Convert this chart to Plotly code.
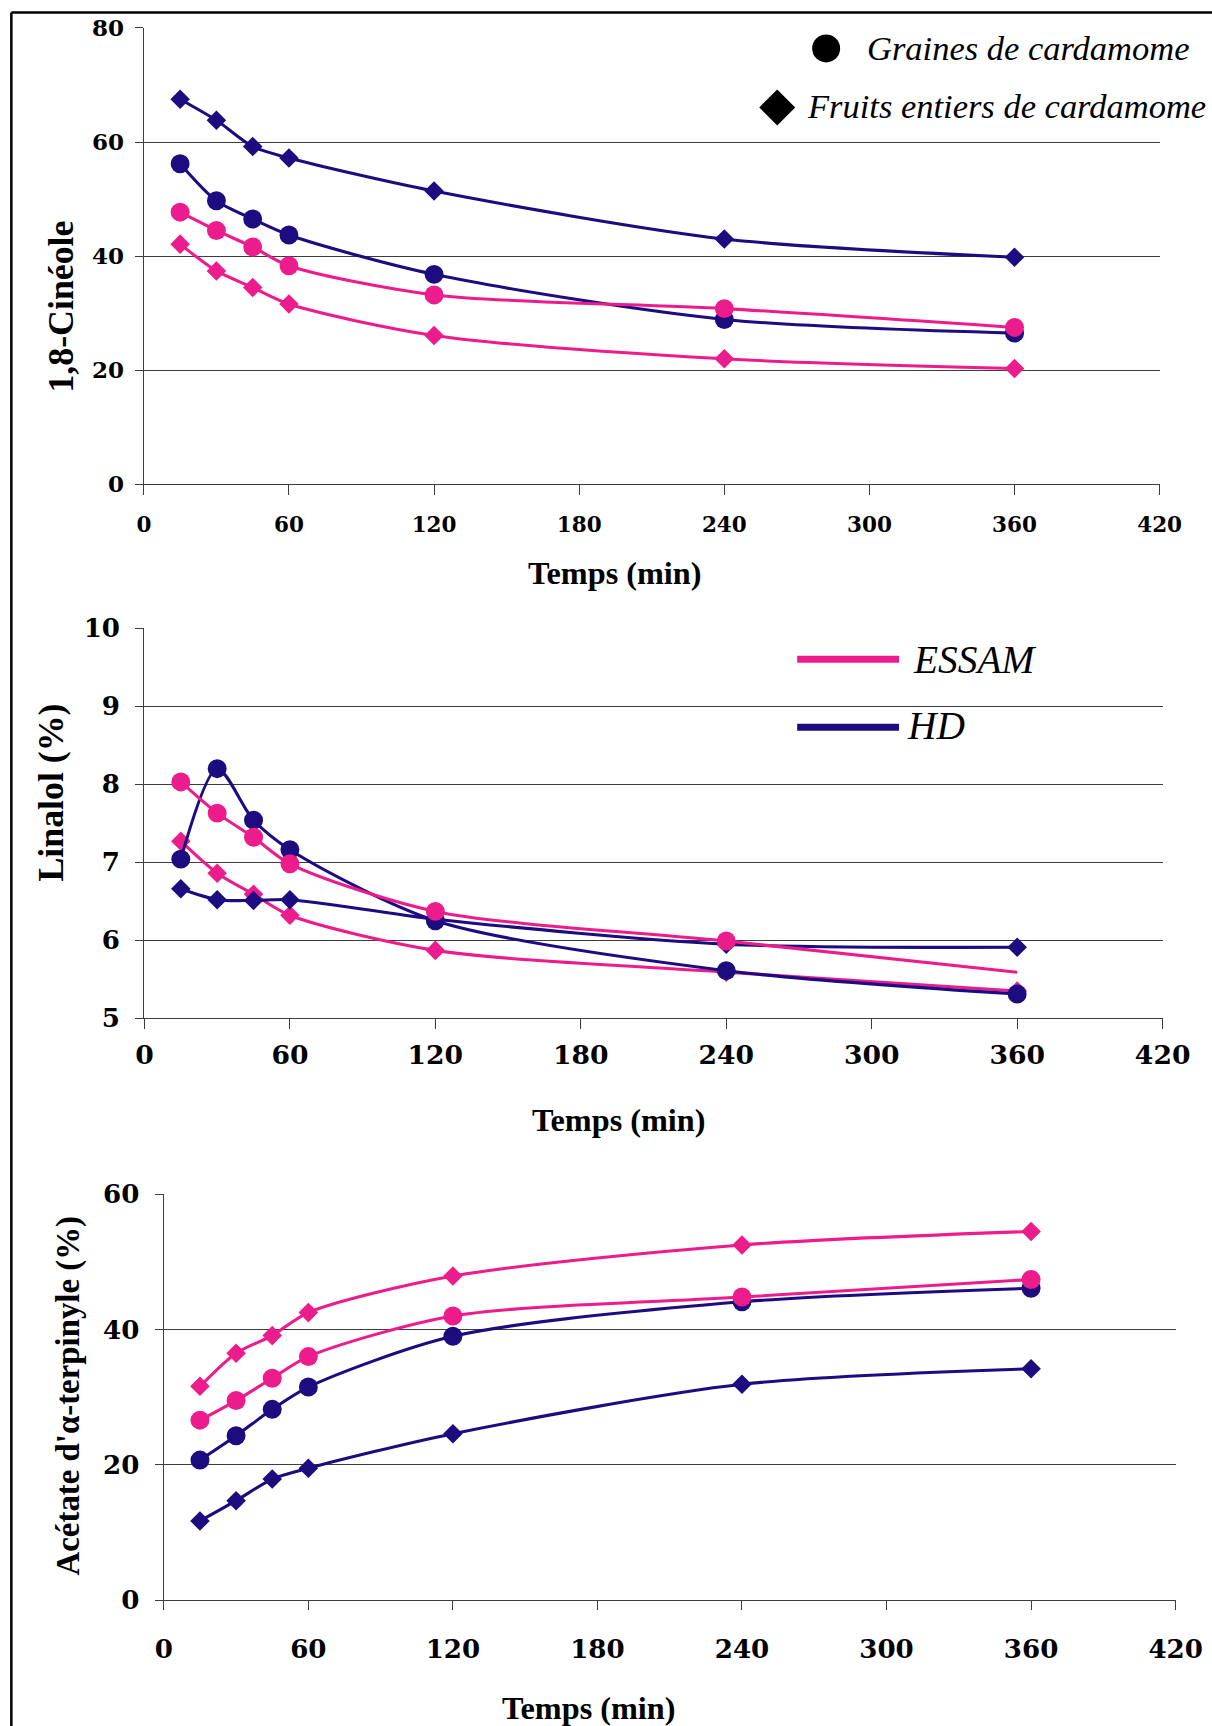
import plotly.graph_objects as go

# ---------------- data ----------------
temps = [15, 30, 45, 60, 120, 240, 360]
x_ticks = [0, 60, 120, 180, 240, 300, 360, 420]

cineole_essam_graines = [47.7, 44.5, 41.6, 38.3, 33.2, 30.8, 27.5]
cineole_essam_fruits = [42.1, 37.4, 34.5, 31.6, 26.1, 22.0, 20.3]
cineole_hd_graines = [56.2, 49.7, 46.5, 43.7, 36.8, 28.9, 26.5]
cineole_hd_fruits = [67.5, 63.8, 59.2, 57.2, 51.4, 43.0, 39.8]

linalol_essam_graines = [8.03, 7.63, 7.32, 6.98, 6.37, 5.99, 5.59]
linalol_essam_fruits = [7.27, 6.86, 6.59, 6.32, 5.87, 5.59, 5.35]
linalol_hd_graines = [7.04, 8.20, 7.54, 7.16, 6.25, 5.61, 5.31]
linalol_hd_fruits = [6.66, 6.52, 6.51, 6.52, 6.27, 5.95, 5.91]

acetate_essam_graines = [26.6, 29.5, 32.8, 36.0, 42.0, 44.8, 47.4]
acetate_essam_fruits = [31.6, 36.5, 39.1, 42.5, 47.9, 52.5, 54.5]
acetate_hd_graines = [20.7, 24.3, 28.2, 31.5, 39.0, 44.1, 46.1]
acetate_hd_fruits = [11.7, 14.7, 17.9, 19.5, 24.6, 31.9, 34.2]

PINK = "#EC1C8C"
NAVY = "#1C0C80"
GRID = "#3c3c3c"
SERIF = "Liberation Serif, Times New Roman, serif"
TICKFONT = "DejaVu Serif, serif"

# page geometry: figure size and the observed placement of the rendered page
W, H = 1240, 1750
OX, OY, SX, SY = 7.65, 14.6, 0.9716, 0.98245
K = 1 / 0.977  # size compensation


def px(x):
    return ((x - OX) / SX) / W


def py(y):
    return 1 - ((y - OY) / SY) / H


def sz(v):
    return v * K


fig = go.Figure()

CIRC = sz(18.5)
DIAM = sz(14.7)

panels = [
    # (suffix, series, y range, y ticks, plot-area px box (ref), x tick font, y tick font, x standoff, y standoff, eg sizes)
    ("", dict(ef=cineole_essam_fruits, hf=cineole_hd_fruits, hg=cineole_hd_graines, eg=cineole_essam_graines),
     [0, 80], [0, 20, 40, 60, 80], (142.7, 1160, 26.5, 483), 21, 22.5, 12, 6, [CIRC] * 7),
    ("2", dict(ef=linalol_essam_fruits, hf=linalol_hd_fruits, hg=linalol_hd_graines, eg=linalol_essam_graines),
     [5, 10], [5, 6, 7, 8, 9, 10], (143.3, 1163, 627, 1017), 26, 25.5, 4, 10, [CIRC] * 6 + [0]),
    ("3", dict(ef=acetate_essam_fruits, hf=acetate_hd_fruits, hg=acetate_hd_graines, eg=acetate_essam_graines),
     [0, 60], [0, 20, 40, 60], (162.7, 1176, 1193, 1599), 25.5, 25.5, 16, 10, [CIRC] * 7),
]

layout = {}
for suf, s, yr, yt, box, xfs, yfs, xstand, ystand, eg_sizes in panels:
    xa, ya = "x" + suf, "y" + suf
    order = [
        (s["ef"], PINK, "diamond", DIAM, "ESSAM - Fruits entiers"),
        (s["hf"], NAVY, "diamond", DIAM, "HD - Fruits entiers"),
        (s["hg"], NAVY, "circle", CIRC, "HD - Graines"),
        (s["eg"], PINK, "circle", eg_sizes, "ESSAM - Graines"),
    ]
    for vals, col, sym, size, name in order:
        fig.add_trace(go.Scatter(
            x=temps, y=vals, xaxis=xa, yaxis=ya, mode="lines+markers",
            line=dict(color=col, width=sz(3), shape="spline", smoothing=0.8),
            marker=dict(symbol=sym, size=size, color=col, opacity=1, line=dict(width=0)),
            name=name, showlegend=False,
        ))
    x0, x1, y0, y1 = box
    layout["xaxis" + suf] = dict(
        domain=[px(x0), px(x1)], anchor=ya, range=[0, 420], tickvals=x_ticks,
        showgrid=False, zeroline=False, showline=True, linecolor=GRID, linewidth=1.2,
        ticks="outside", ticklen=sz(9), tickcolor=GRID, tickwidth=1.2,
        tickfont=dict(family=TICKFONT, size=sz(xfs), color="black", weight="bold"),
        ticklabelstandoff=xstand,
    )
    layout["yaxis" + suf] = dict(
        domain=[py(y1), py(y0)], anchor=xa, range=yr, tickvals=yt,
        showgrid=True, gridcolor=GRID, gridwidth=1.2, zeroline=False,
        showline=True, linecolor=GRID, linewidth=1.2,
        ticks="outside", ticklen=sz(8), tickcolor=GRID, tickwidth=1.2,
        tickfont=dict(family=TICKFONT, size=sz(yfs), color="black", weight="bold"),
        ticklabelstandoff=ystand,
    )

annotations = []
shapes = []

title_font = dict(family=SERIF, size=sz(31.5), color="black", weight="bold")
for (cx, cy) in [(614, 572), (618, 1119), (588, 1707)]:
    annotations.append(dict(x=px(cx), y=py(cy), xref="paper", yref="paper", text="Temps (min)",
                            showarrow=False, font=title_font, xanchor="center", yanchor="middle"))
for (cx, cy, txt, fsz) in [(60, 305, "1,8-Cinéole", 35), (50, 791, "Linalol (%)", 35),
                           (67, 1395, "Acétate d'α-terpinyle (%)", 32.1)]:
    annotations.append(dict(x=px(cx), y=py(cy), xref="paper", yref="paper", text=txt, textangle=-90,
                            showarrow=False, font=dict(family=SERIF, size=sz(fsz), color="black", weight="bold"),
                            xanchor="center", yanchor="middle"))

# legend of panel 1 (marker shapes)
leg_font = dict(family=SERIF, size=sz(33.7), color="black", style="italic")
annotations.append(dict(x=px(865), y=py(47), xref="paper", yref="paper", text="Graines de cardamome",
                        showarrow=False, font=leg_font, xanchor="left", yanchor="middle"))
annotations.append(dict(x=px(805), y=py(105), xref="paper", yref="paper", text="Fruits entiers de cardamome",
                        showarrow=False, font=leg_font, xanchor="left", yanchor="middle"))
shapes.append(dict(type="circle", xref="paper", yref="paper", x0=px(812), x1=px(840), y0=py(33), y1=py(61),
                   fillcolor="black", line=dict(width=0)))
dcx, dcy, dr = 777, 106, 18
shapes.append(dict(type="path", xref="paper", yref="paper",
                   path=f"M {px(dcx - dr)},{py(dcy)} L {px(dcx)},{py(dcy - dr)} L {px(dcx + dr)},{py(dcy)} L {px(dcx)},{py(dcy + dr)} Z",
                   fillcolor="black", line=dict(width=0)))

# legend of panel 2 (lines)
leg2_font = dict(family=SERIF, size=sz(38.5), color="black", style="italic")
shapes.append(dict(type="line", xref="paper", yref="paper", x0=px(797), x1=px(899), y0=py(658), y1=py(658),
                   line=dict(color=PINK, width=sz(7))))
shapes.append(dict(type="line", xref="paper", yref="paper", x0=px(797), x1=px(899), y0=py(726), y1=py(726),
                   line=dict(color=NAVY, width=sz(7))))
annotations.append(dict(x=px(911), y=py(659), xref="paper", yref="paper", text="ESSAM",
                        showarrow=False, font=leg2_font, xanchor="left", yanchor="middle"))
annotations.append(dict(x=px(905), y=py(725), xref="paper", yref="paper", text="HD",
                        showarrow=False, font=leg2_font, xanchor="left", yanchor="middle"))

# outer frame: left and top edges
top_y = py(11)
left_x = px(10)
shapes.append(dict(type="line", xref="paper", yref="paper", x0=left_x, x1=1.02, y0=top_y, y1=top_y,
                   line=dict(color="black", width=2.5)))
shapes.append(dict(type="line", xref="paper", yref="paper", x0=left_x, x1=left_x, y0=-0.02, y1=top_y,
                   line=dict(color="black", width=2.5)))

fig.update_layout(
    width=W, height=H, margin=dict(l=0, r=0, t=0, b=0),
    paper_bgcolor="white", plot_bgcolor="white",
    showlegend=False, annotations=annotations, shapes=shapes,
    **layout,
)

fig.write_html("out.html", config={"displayModeBar": False},
               post_script="document.body.style.margin='0px';document.body.style.overflow='hidden';")
